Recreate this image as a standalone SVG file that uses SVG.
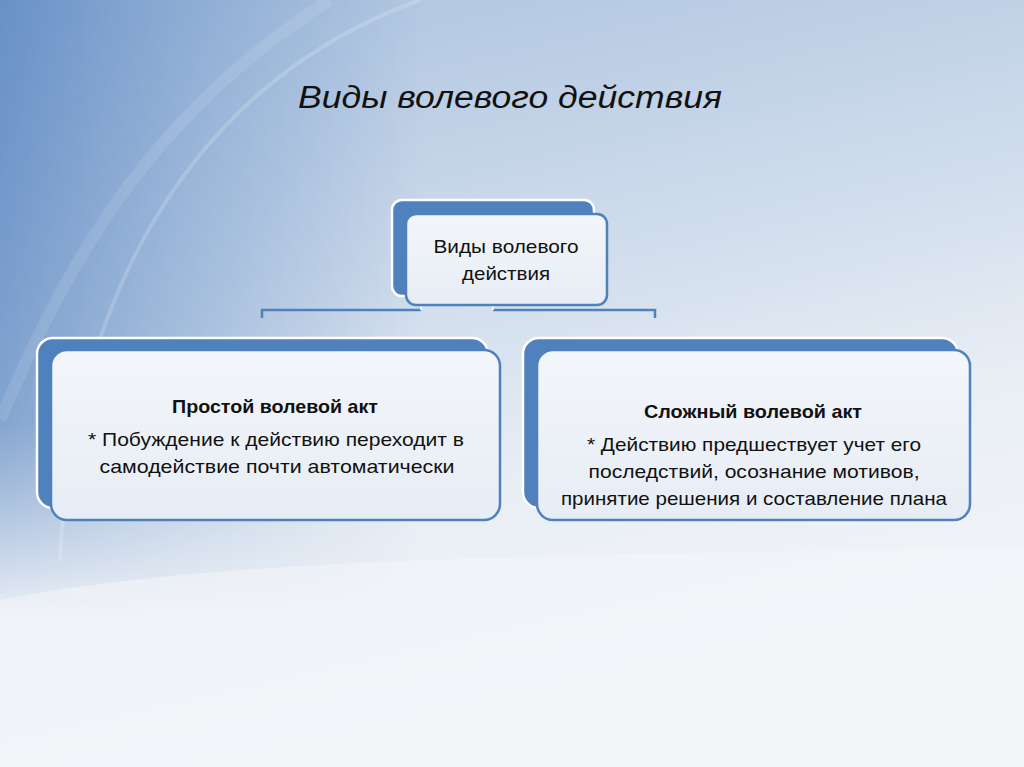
<svg xmlns="http://www.w3.org/2000/svg" width="1024" height="767" viewBox="0 0 1024 767">
<defs>
<linearGradient id="bg" x1="0" y1="0" x2="0.3" y2="1">
<stop offset="0" stop-color="#a9c1de"/>
<stop offset="0.45" stop-color="#cfdcec"/>
<stop offset="0.72" stop-color="#e9eef5"/>
<stop offset="1" stop-color="#f2f5f9"/>
</linearGradient>
<linearGradient id="left" x1="0" y1="0" x2="1" y2="0">
<stop offset="0" stop-color="#5d88c2" stop-opacity="0.85"/>
<stop offset="0.6" stop-color="#6d95c9" stop-opacity="0.35"/>
<stop offset="1" stop-color="#6d95c9" stop-opacity="0"/>
</linearGradient>
<linearGradient id="leftfade" x1="0" y1="0" x2="0" y2="1">
<stop offset="0" stop-color="#fff" stop-opacity="1"/>
<stop offset="0.55" stop-color="#fff" stop-opacity="0.8"/>
<stop offset="0.8" stop-color="#fff" stop-opacity="0"/>
</linearGradient>
<mask id="lm"><rect width="1024" height="767" fill="url(#leftfade)"/></mask>
<linearGradient id="front" x1="0" y1="0" x2="0" y2="1">
<stop offset="0" stop-color="#f3f6fa"/>
<stop offset="1" stop-color="#e7edf5"/>
</linearGradient>
<style>
.back{fill:#4f81bd;stroke:#ffffff;stroke-width:2.5}
.front{fill:url(#front);stroke:#4f81bd;stroke-width:2.5}
.t{font-family:"Liberation Sans","DejaVu Sans",sans-serif;fill:#111;text-anchor:middle}
.b{font-weight:bold}
.conn{fill:none;stroke:#4f81bd;stroke-width:2.5}
</style>
</defs>
<rect width="1024" height="767" fill="url(#bg)"/>
<rect width="420" height="767" fill="url(#left)" mask="url(#lm)"/>
<path d="M0 600 C 200 560 500 555 1024 548 L1024 767 L0 767 Z" fill="#f4f6fa" opacity="0.55"/>
<path d="M420 0 C 170 90 70 330 60 560" fill="none" stroke="#ffffff" stroke-opacity="0.18" stroke-width="4"/>
<path d="M330 0 C 140 120 60 280 0 420" fill="none" stroke="#ffffff" stroke-opacity="0.1" stroke-width="12"/>

<text class="t" x="510" y="108" font-size="31" font-style="italic" textLength="424" lengthAdjust="spacingAndGlyphs">Виды волевого действия</text>

<g id="connectors">
<path class="conn" d="M262 318 V310 H421"/>
<path class="conn" d="M493 310 H655 V318"/>
<path d="M421 303 V310 M493 303 V310" stroke="#ffffff" stroke-width="1.5" fill="none"/>
</g>

<g id="root">
<rect class="back" x="392" y="200" width="202" height="96" rx="10"/>
<rect class="front" x="406" y="214" width="201" height="91" rx="10"/>
<text class="t" x="506" y="253" font-size="19" textLength="145" lengthAdjust="spacingAndGlyphs">Виды волевого</text>
<text class="t" x="506" y="280" font-size="19" textLength="88" lengthAdjust="spacingAndGlyphs">действия</text>
</g>

<g id="simple">
<rect class="back" x="37" y="338" width="451" height="170" rx="16"/>
<rect class="front" x="51" y="350" width="449" height="170" rx="16"/>
<text class="t b" x="275" y="413" font-size="19" textLength="206" lengthAdjust="spacingAndGlyphs">Простой волевой акт</text>
<text class="t" x="276" y="446" font-size="19" textLength="376" lengthAdjust="spacingAndGlyphs">* Побуждение к действию переходит в</text>
<text class="t" x="277" y="473" font-size="19" textLength="355" lengthAdjust="spacingAndGlyphs">самодействие почти автоматически</text>
</g>

<g id="complex">
<rect class="back" x="523" y="338" width="435" height="170" rx="16"/>
<rect class="front" x="537" y="350" width="433" height="170" rx="16"/>
<text class="t b" x="753" y="418" font-size="19" textLength="218" lengthAdjust="spacingAndGlyphs">Сложный волевой акт</text>
<text class="t" x="754" y="451" font-size="19" textLength="334" lengthAdjust="spacingAndGlyphs">* Действию предшествует учет его</text>
<text class="t" x="754" y="478" font-size="19" textLength="331" lengthAdjust="spacingAndGlyphs">последствий, осознание мотивов,</text>
<text class="t" x="754" y="505" font-size="19" textLength="386" lengthAdjust="spacingAndGlyphs">принятие решения и составление плана</text>
</g>
</svg>
